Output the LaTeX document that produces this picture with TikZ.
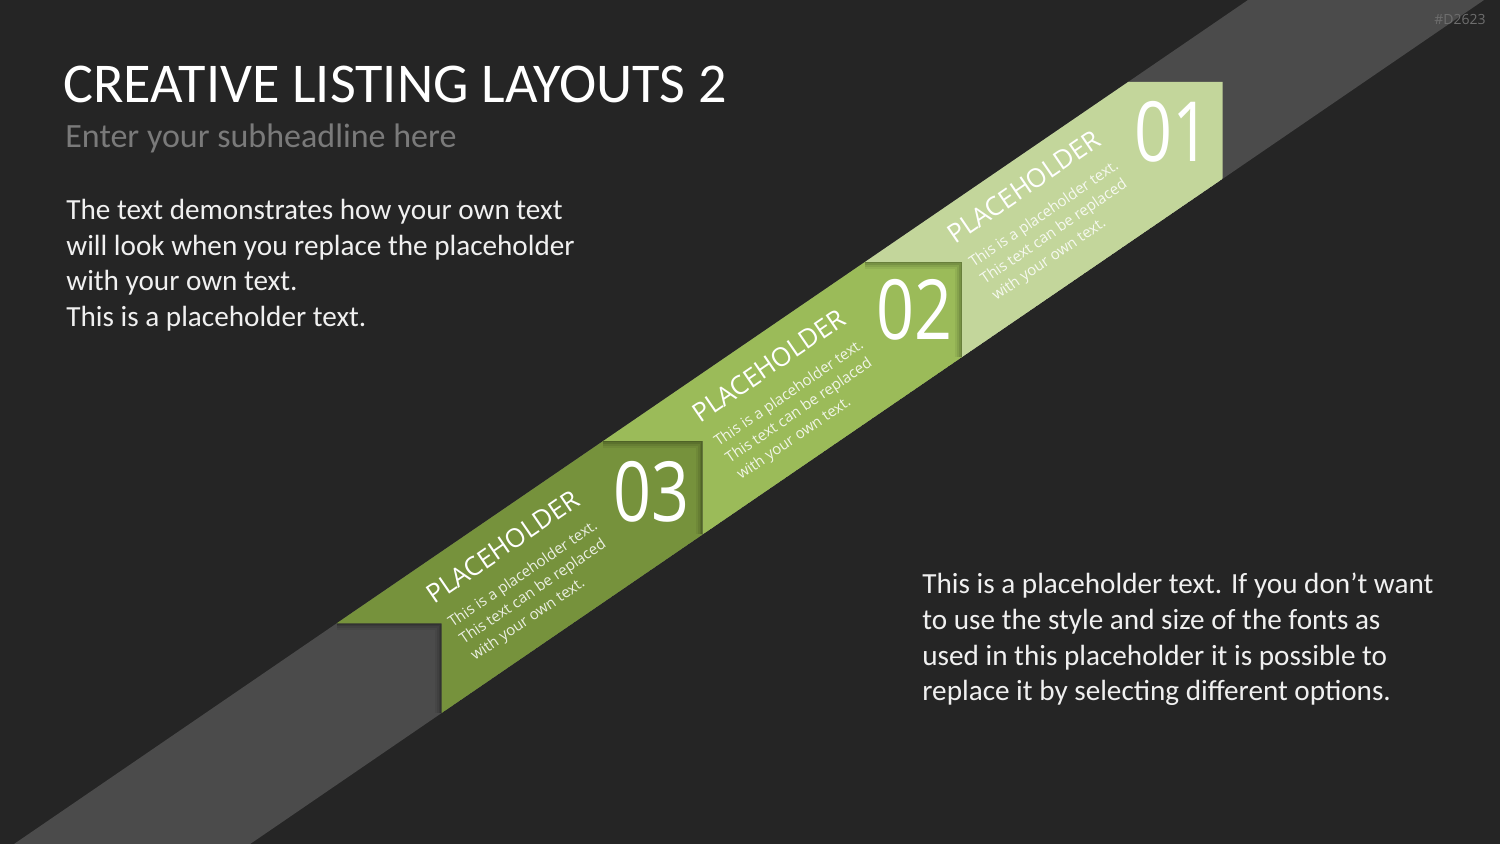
\documentclass[tikz,border=0pt]{standalone}
\usepackage{fontspec}
\setmainfont{Carlito}
\newfontfamily\osans{Open Sans}
\newfontfamily\numfont[FakeStretch=0.8]{Open Sans}
\usetikzlibrary{calc}
\definecolor{bg}{HTML}{252525}
\definecolor{band}{HTML}{4B4B4B}
\definecolor{gA}{HTML}{76923C}
\definecolor{gB}{HTML}{9BBB59}
\definecolor{gC}{HTML}{C3D69B}
\definecolor{subgray}{HTML}{7A7A7A}
\definecolor{idgray}{HTML}{6E6E6E}
\definecolor{bodytext}{HTML}{F0F0F0}
\tikzset{
  title/.style={anchor=base west, inner sep=0, text=white, font=\fontsize{28.1}{32}\selectfont},
  subtitle/.style={anchor=base west, inner sep=0, text=subgray, font=\fontsize{17}{20}\selectfont},
  bodyline/.style={anchor=base west, inner sep=0, text=bodytext, font=\fontsize{14.6}{18}\selectfont},
  num/.style={anchor=base west, inner sep=0, text=white, font=\numfont\fontsize{41.5}{42}\selectfont},
  phead/.style={anchor=base west, inner sep=0, text=white, font=\osans\fontsize{13}{14}\selectfont},
  pline/.style={anchor=base west, inner sep=0, text=white, text opacity=0.85, font=\osans\fontsize{7.5}{9}\selectfont},
  idtag/.style={anchor=base east, inner sep=0, text=idgray, font=\osans\fontsize{7}{8}\selectfont},
}
\newcommand{\dropshadow}[3]{%
  \foreach \w/\o in {7/0.06,5/0.08,3/0.1,1.5/0.12}
    \draw[black, draw opacity=\o, line width=\w pt, line join=miter] (#1)--(#2)--(#3);
}
\begin{document}
\begin{tikzpicture}[x=0.5pt,y=-0.5pt]
\fill[bg] (0,0) rectangle (1500,844);
\useasboundingbox (0,0) rectangle (1500,844);
\coordinate (a3) at (336.7,623.3);
\coordinate (k3) at (441.7,623.3);
\coordinate (l3) at (441.7,713);
\coordinate (a2) at (603.2,441);
\coordinate (k2) at (702.7,441);
\coordinate (l2) at (702.7,534.5);
\coordinate (a1) at (864.9,262);
\coordinate (k1) at (962,262);
\coordinate (l1) at (962,357.1);
\coordinate (a0) at (1128.1,82);
\coordinate (k0) at (1222.7,82);
\coordinate (l0) at (1222.7,178.8);
\begin{scope}
  \clip (0,0) rectangle (1500,844);
  \fill[band] (-15.2,864) -- (1277.2,-20) -- (1513.3,-20) -- (220.9,864) -- cycle;
  \begin{scope}
    \clip (-15.2,864) -- (1277.2,-20) -- (1513.3,-20) -- (220.9,864) -- cycle;
    \dropshadow{a3}{k3}{l3}
    \fill[gA] (a3)--(k3)--(l3)--(l2)--(k2)--(a2)--cycle;
    \dropshadow{a2}{k2}{l2}
    \fill[gB] (a2)--(k2)--(l2)--(l1)--(k1)--(a1)--cycle;
    \dropshadow{a1}{k1}{l1}
    \fill[gC] (a1)--(k1)--(l1)--(l0)--(k0)--(a0)--cycle;
  \end{scope}
\end{scope}

\node[idtag] (id) at (1486,25) {\#D2623};
\node[title] (ttl) at (63,102.7) {CREATIVE LISTING LAYOUTS 2};
\node[subtitle] (sub) at (65,148) {Enter your subheadline here};

\node[bodyline] (lt1) at (66,220) {The text demonstrates how your own text};
\node[bodyline] (lt2) at (66,255.5) {will look when you replace the placeholder};
\node[bodyline] (lt3) at (66,291) {with your own text.};
\node[bodyline] (lt4) at (66,326.5) {This is a placeholder text.};

\node[bodyline] (rt1) at (922,594) {This is a placeholder text. If you don’t want};
\node[bodyline] (rt2) at (922,629.5) {to use the style and size of the fonts as};
\node[bodyline] (rt3) at (922,665) {used in this placeholder it is possible to};
\node[bodyline] (rt4) at (922,700.5) {replace it by selecting different options.};

\node[num] (n1) at (1134,162) {01};
\node[num] (n2) at (876,340) {02};
\node[num] (n3) at (613,522) {03};

\foreach \px/\py/\k in {955/245/1, 700/424/2, 434/605/3}{
  \begin{scope}[shift={(\px,\py)}, rotate=34.4, transform shape]
    \node[phead] (ph\k) at (0,0) {PLACEHOLDER};
    \node[pline] (pa\k) at (2,29.5) {This is a placeholder text.};
    \node[pline] (pb\k) at (2,49.5) {This text can be replaced};
    \node[pline] (pc\k) at (2,69.5) {with your own text.};
  \end{scope}
}
\end{tikzpicture}
\end{document}
